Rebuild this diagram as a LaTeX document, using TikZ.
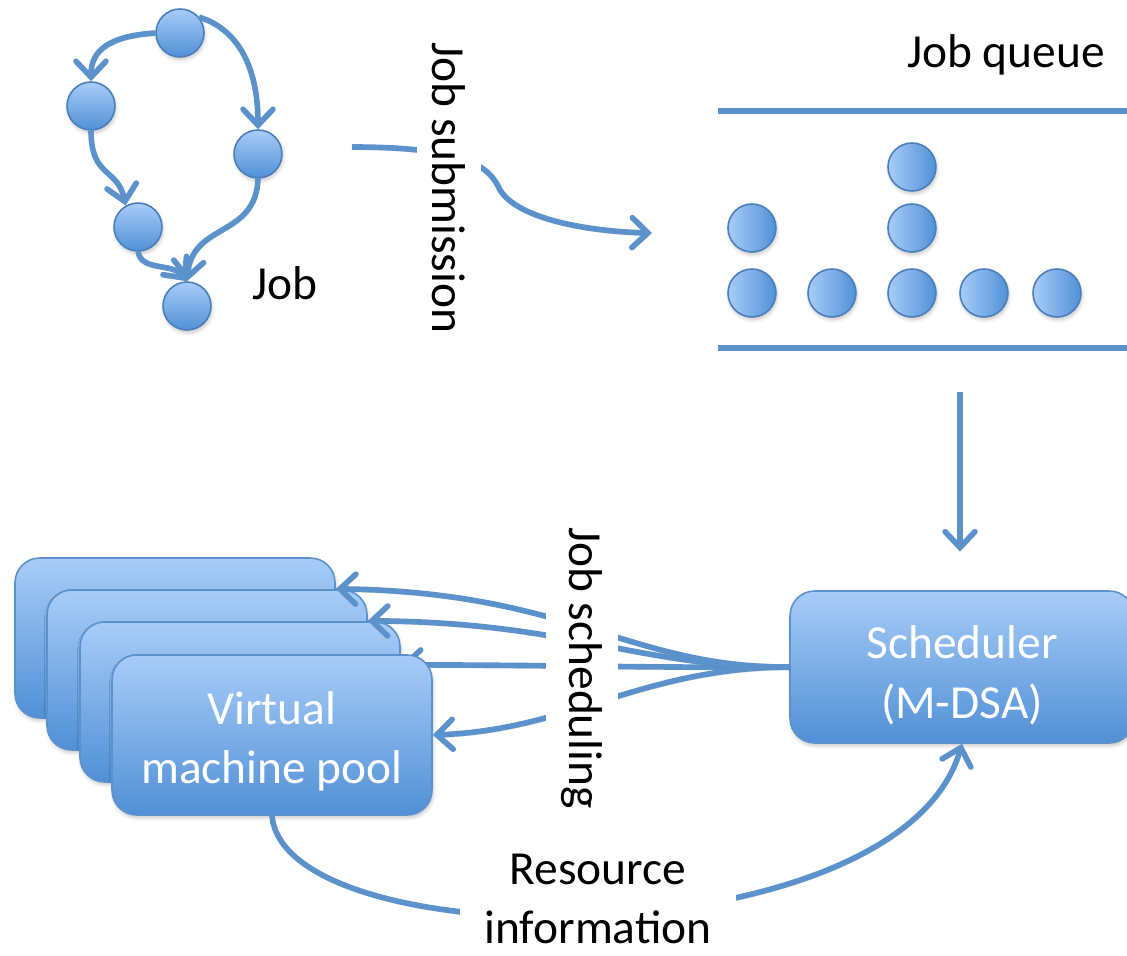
\documentclass[tikz,border=0pt]{standalone}
\usepackage{fontspec}
\setmainfont{Carlito}
\usetikzlibrary{arrows.meta,shadows.blur}

\definecolor{linkc}{RGB}{92,146,204}
\definecolor{edgec}{RGB}{74,126,187}
\definecolor{lightc}{RGB}{168,204,248}
\definecolor{darkc}{RGB}{80,144,214}

\tikzset{
  softshadow/.style={blur shadow={shadow blur steps=6, shadow xshift=0.6pt,
      shadow yshift=-1.6pt, shadow opacity=22, shadow blur radius=2pt}},
  lineshadow/.style={preaction={draw=black, draw opacity=0.12,
      transform canvas={shift={(0.5pt,-1.6pt)}}}},
  dagnode/.style={circle, minimum size=0.96cm, inner sep=0pt, draw=edgec,
      line width=0.9pt, top color=lightc, bottom color=darkc, softshadow},
  qnode/.style={circle, minimum size=0.96cm, inner sep=0pt, draw=edgec,
      line width=0.9pt, left color=lightc, right color=darkc, softshadow},
  box/.style={rectangle, rounded corners=14pt, draw=linkc, line width=0.9pt,
      top color=lightc, bottom color=darkc, text=white, align=center,
      minimum width=6.4cm, minimum height=3.2cm, softshadow},
  lbl/.style={fill=white, text=black, align=center},
  link/.style={line width=3.2pt, draw=linkc, lineshadow,
      -{Straight Barb[length=9pt,width=17pt,line cap=round]}},
  rail/.style={line width=3.4pt, draw=linkc, lineshadow},
}

\begin{document}
\begin{tikzpicture}[x=0.02cm, y=-0.02cm, font=\fontsize{27}{34}\selectfont]
\useasboundingbox (0,0) rectangle (1127,956);

% --- the job: a small DAG of tasks
\node[dagnode] (t) at (180,33) {};
\node[dagnode] (l) at (91,106) {};
\node[dagnode] (r) at (258,154) {};
\node[dagnode] (m) at (138,227) {};
\node[dagnode] (b) at (187,306) {};
\draw[link] (t.west) .. controls (110,36) and (91,50) .. (l.north);
\draw[link] (t.40) .. controls (240,30) and (258,70) .. (r.north);
\draw[link] (l.south) .. controls (91,178) and (118,168) .. (m.120);
\draw[link] (m.south) .. controls (142,272) and (172,262) .. (b.north);
\draw[link] (r.south) .. controls (256,238) and (192,222) .. (b.north);
\node (joblbl) at (285,283) {Job};

% --- submission into the queue
\coordinate (subfrom) at (352,147);
\coordinate (subto) at (652,233);
\draw[link] (subfrom) .. controls (470,147) and (490,168) .. (500,190)
  .. controls (520,222) and (600,232) .. (subto);
\node[lbl, rotate=-90, inner ysep=9pt, inner xsep=2pt] (sublbl) at (449,188) {Job submission};

% --- job queue
\node (qlbl) at (1006,55) {Job queue};
\draw[rail] (718,111) -- (1127,111);
\draw[rail] (718,348) -- (1127,348);
\node[qnode] (q1) at (752,293) {};
\node[qnode] (q2) at (832,293) {};
\node[qnode] (q3) at (912,293) {};
\node[qnode] (q4) at (984,293) {};
\node[qnode] (q5) at (1057,293) {};
\node[qnode] (q6) at (752,228) {};
\node[qnode] (q7) at (912,228) {};
\node[qnode] (q8) at (912,167) {};

% --- scheduler
\node[box, minimum width=6.88cm, minimum height=3.04cm] (sch) at (962,667)
  {\rule{0pt}{28pt}Scheduler\\(M-DSA)};
\coordinate (qout) at (960,392);
\draw[link, shorten >=22pt] (qout) -- (qout |- sch.north);

% --- virtual machine pool
\node[box] (vm1) at (175,638) {};
\node[box] (vm2) at (207,670) {};
\node[box] (vm3) at (240,702) {};
\draw[link] (sch.west) .. controls (650,668) and (560,665) .. (vm3.13);
\node[box] (vm4) at (272,735) {\rule{0pt}{26pt}Virtual\\machine pool};
\draw[link] (sch.west) .. controls (630,668) and (570,592) .. (vm1.17);
\draw[link] (sch.west) .. controls (640,668) and (570,622) .. (vm2.17);
\draw[link] (sch.west) .. controls (640,668) and (570,730) .. (vm4.east);
\node[lbl, rotate=-90, inner ysep=9pt, inner xsep=2pt] (schedlbl) at (582,668) {Job scheduling};

% --- resource feedback
\draw[link] (vm4.south) .. controls (285,960) and (900,960) .. (sch.south);
\node[lbl, inner xsep=14pt, inner ysep=0pt] (reslbl) at (598,899) {Resource\\information};
\end{tikzpicture}
\end{document}
